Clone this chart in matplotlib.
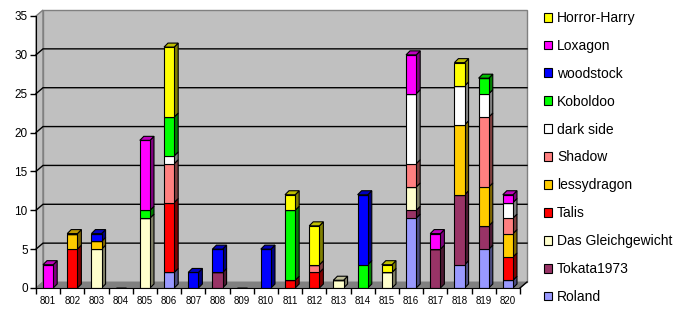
import matplotlib
matplotlib.use("Agg")
import matplotlib.pyplot as plt
from matplotlib.patches import Polygon, Patch
import numpy as np

plt.rcParams['font.family'] = ['Liberation Sans', 'DejaVu Sans']

categories = [str(c) for c in range(801, 821)]

# series from bottom of stack to top
series_names = ["Roland", "Tokata1973", "Das Gleichgewicht", "Talis", "lessydragon",
                "Shadow", "dark side", "Koboldoo", "woodstock", "Loxagon", "Horror-Harry"]
series_colors = ["#9999FF", "#993366", "#FFFFCC", "#FF0000", "#FFCC00",
                 "#FF8080", "#FFFFFF", "#00FF00", "#0000FF", "#FF00FF", "#FFFF00"]

#            801 802 803 804 805 806 807 808 809 810 811 812 813 814 815 816 817 818 819 820
roland    = [0,  0,  0,  0,  0,  2,  0,  0,  0,  0,  0,  0,  0,  0,  0,  9,  0,  3,  5,  1]
tokata    = [0,  0,  0,  0,  0,  0,  0,  2,  0,  0,  0,  0,  0,  0,  0,  1,  5,  9,  3,  0]
gleich    = [0,  0,  5,  0,  9,  0,  0,  0,  0,  0,  0,  0,  1,  0,  2,  3,  0,  0,  0,  0]
talis     = [0,  5,  0,  0,  0,  9,  0,  0,  0,  0,  1,  2,  0,  0,  0,  0,  0,  0,  0,  3]
lessy     = [0,  2,  1,  0,  0,  0,  0,  0,  0,  0,  0,  0,  0,  0,  0,  0,  0,  9,  5,  3]
shadow    = [0,  0,  0,  0,  0,  5,  0,  0,  0,  0,  0,  1,  0,  0,  0,  3,  0,  0,  9,  2]
darkside  = [0,  0,  0,  0,  0,  1,  0,  0,  0,  0,  0,  0,  0,  0,  0,  9,  0,  5,  3,  2]
koboldoo  = [0,  0,  0,  0,  1,  5,  0,  0,  0,  0,  9,  0,  0,  3,  0,  0,  0,  0,  2,  0]
woodstock = [0,  0,  1,  0,  0,  0,  2,  3,  0,  5,  0,  0,  0,  9,  0,  0,  0,  0,  0,  0]
loxagon   = [3,  0,  0,  0,  9,  0,  0,  0,  0,  0,  0,  0,  0,  0,  0,  5,  2,  0,  0,  1]
horror    = [0,  0,  0,  0,  0,  9,  0,  0,  0,  0,  2,  5,  0,  0,  1,  0,  0,  3,  0,  0]

series_values = [roland, tokata, gleich, talis, lessy, shadow, darkside,
                 koboldoo, woodstock, loxagon, horror]

y_ticks = [0, 5, 10, 15, 20, 25, 30, 35]

W, H = 690, 315
fig = plt.figure(figsize=(W / 100, H / 100), dpi=100)
fig.patch.set_facecolor("white")

ax_l, ax_r, ax_b, ax_t = 36, 520, 288, 16
ax = fig.add_axes([ax_l / W, (H - ax_b) / H, (ax_r - ax_l) / W, (ax_b - ax_t) / H])
ax.set_facecolor("none")
n = len(categories)
x = np.arange(1, n + 1)
ax.set_xlim(0.5, n + 0.5)
ax.set_ylim(0, 35)

ppx = (ax_r - ax_l) / n        # pixels per x unit
ppy = (ax_b - ax_t) / 35.0     # pixels per y unit
ox, oy = 7 / ppx, 6 / ppy      # wall depth
bx, by = 4 / ppx, 4 / ppy      # bar depth

x0, x1 = 0.5, n + 0.5
# side wall, back wall, floor
ax.add_patch(Polygon([(x0, 0), (x0, 35), (x0 + ox, 35 + oy), (x0 + ox, oy)],
                     closed=True, fc="#C0C0C0", ec="#808080", lw=1, clip_on=False, zorder=0))
ax.add_patch(Polygon([(x0 + ox, oy), (x0 + ox, 35 + oy), (x1 + ox, 35 + oy), (x1 + ox, oy)],
                     closed=True, fc="#C0C0C0", ec="#808080", lw=1, clip_on=False, zorder=0))
ax.add_patch(Polygon([(x0, 0), (x1, 0), (x1 + ox, oy), (x0 + ox, oy)],
                     closed=True, fc="#808080", ec="#808080", lw=0.5, clip_on=False, zorder=0.5))
ax.plot([x1, x1 + ox], [0, oy], color="black", lw=1, clip_on=False, zorder=0.6)
for v in y_ticks[1:-1]:
    ax.plot([x0, x0 + ox, x1 + ox], [v, v + oy, v + oy], color="black", lw=1,
            clip_on=False, zorder=0.6)

bw = 0.42


def shade(c, f):
    r, g, b = matplotlib.colors.to_rgb(c)
    return (r * f, g * f, b * f)


bottoms = np.zeros(n)
for vals, col in zip(series_values, series_colors):
    vals = np.array(vals, dtype=float)
    for i in range(n):
        if vals[i] <= 0:
            continue
        xc = x[i]
        y0, y1 = bottoms[i], bottoms[i] + vals[i]
        xr = xc + bw / 2
        ax.add_patch(Polygon([(xr, y0), (xr + bx, y0 + by), (xr + bx, y1 + by), (xr, y1)],
                             closed=True, fc=shade(col, 0.5), ec="black", lw=0.8,
                             clip_on=False, zorder=2))
    ax.bar(x, vals, bw, bottom=bottoms, color=col, edgecolor="black", linewidth=0.8,
           zorder=3)
    bottoms = bottoms + vals

# top faces
for i in range(n):
    topcol = None
    acc = 0
    for vals, col in zip(series_values, series_colors):
        if vals[i] > 0:
            acc += vals[i]
            topcol = col
    if topcol is None:
        continue
    xl, xr = x[i] - bw / 2, x[i] + bw / 2
    ax.add_patch(Polygon([(xl, acc), (xl + bx, acc + by), (xr + bx, acc + by), (xr, acc)],
                         closed=True, fc=shade(topcol, 0.75), ec="black", lw=0.8,
                         clip_on=False, zorder=4))

# axes styling
for s in ["top", "right"]:
    ax.spines[s].set_visible(False)
ax.spines["left"].set_color("black")
ax.spines["bottom"].set_color("black")
ax.spines["left"].set_zorder(5)
ax.spines["bottom"].set_zorder(5)
ax.set_yticks(y_ticks)
ax.set_yticklabels([str(v) for v in y_ticks], fontsize=8.5)
ax.tick_params(axis="y", direction="out", length=4, width=1, pad=2)
ax.set_xticks(np.arange(0.5, n + 1, 1.0))
ax.set_xticklabels([])
ax.tick_params(axis="x", which="major", direction="out", length=4, width=1)
ax.set_xticks(x, minor=True)
ax.set_xticklabels(categories, minor=True, fontsize=7)
ax.tick_params(axis="x", which="minor", length=0, pad=6)

handles = [Patch(facecolor=c, edgecolor="black", linewidth=0.8)
           for c in series_colors[::-1]]
fig.legend(handles, series_names[::-1], loc="upper left",
           bbox_to_anchor=(544 / W, 1 - 11 / H), frameon=False, fontsize=10,
           handlelength=0.6, handleheight=0.6, handletextpad=0.35,
           labelspacing=1.0, borderpad=0, borderaxespad=0)

fig.savefig("out.png", dpi=100)
